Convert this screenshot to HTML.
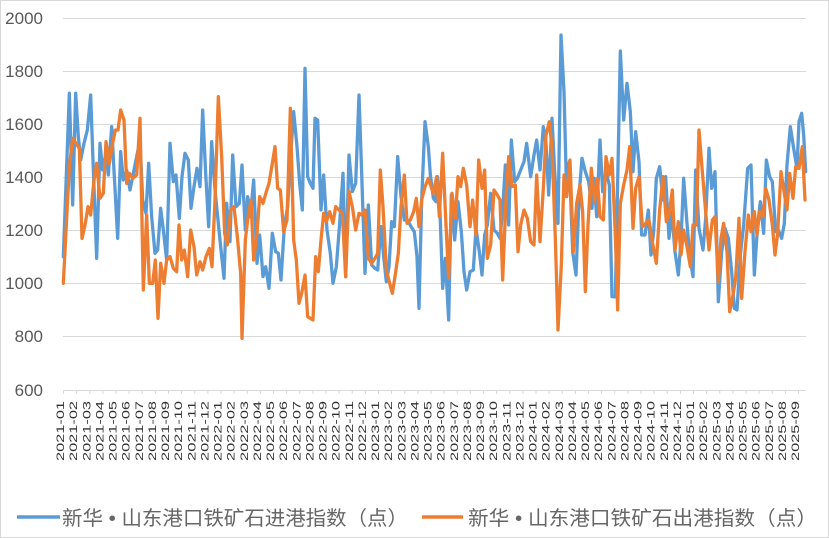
<!DOCTYPE html>
<html>
<head>
<meta charset="utf-8">
<style>
html,body{margin:0;padding:0;background:#fff;}
svg{display:block;}
.yl{font-family:"Liberation Sans",sans-serif;font-size:17px;fill:#595959;}
.xl{font-family:"Liberation Sans",sans-serif;font-size:10.8px;fill:#333;}
.lg{font-family:"Liberation Sans","Noto Sans CJK SC",sans-serif;font-size:20px;fill:#666;}
</style>
</head>
<body>
<svg width="829" height="538" viewBox="0 0 829 538" xmlns="http://www.w3.org/2000/svg">
<rect x="0.5" y="0.5" width="828" height="537" fill="#fff" stroke="#d9d9d9" stroke-width="1"/>
<!-- gridlines -->
<g stroke="#d9d9d9" stroke-width="1">
<line x1="63" y1="18.5" x2="806" y2="18.5"/>
<line x1="63" y1="71.5" x2="806" y2="71.5"/>
<line x1="63" y1="124.5" x2="806" y2="124.5"/>
<line x1="63" y1="177.5" x2="806" y2="177.5"/>
<line x1="63" y1="230.5" x2="806" y2="230.5"/>
<line x1="63" y1="283.5" x2="806" y2="283.5"/>
<line x1="63" y1="336.5" x2="806" y2="336.5"/>
<line x1="63" y1="390.5" x2="806" y2="390.5"/>
<path d="M63.5 390v4M76.6 390v4M89.75 390v4M102.9 390v4M116 390v4M129.1 390v4M142.25 390v4M155.4 390v4M168.5 390v4M181.6 390v4M194.75 390v4M207.9 390v4M221 390v4M234.1 390v4M247.25 390v4M260.4 390v4M273.5 390v4M286.6 390v4M299.75 390v4M312.9 390v4M326 390v4M339.1 390v4M352.25 390v4M365.4 390v4M378.5 390v4M391.6 390v4M404.75 390v4M417.9 390v4M431 390v4M444.1 390v4M457.25 390v4M470.4 390v4M483.5 390v4M496.6 390v4M509.75 390v4M522.9 390v4M536 390v4M549.1 390v4M562.25 390v4M575.4 390v4M588.5 390v4M601.6 390v4M614.75 390v4M627.9 390v4M641 390v4M654.1 390v4M667.25 390v4M680.4 390v4M693.5 390v4M706.6 390v4M719.75 390v4M732.9 390v4M746 390v4M759.1 390v4M772.25 390v4M785.4 390v4M798.5 390v4"/>
</g>
<!-- y labels -->
<g class="yl" text-anchor="end">
<text x="43" y="24">2000</text>
<text x="43" y="77">1800</text>
<text x="43" y="130">1600</text>
<text x="43" y="183">1400</text>
<text x="43" y="236">1200</text>
<text x="43" y="289">1000</text>
<text x="43" y="342">800</text>
<text x="43" y="396">600</text>
</g>
<!-- x labels -->
<g class="xl" text-anchor="end">
<text transform="translate(64,401) rotate(-90)" textLength="60" lengthAdjust="spacingAndGlyphs">2021-01</text>
<text transform="translate(77.1,401) rotate(-90)" textLength="60" lengthAdjust="spacingAndGlyphs">2021-02</text>
<text transform="translate(90.25,401) rotate(-90)" textLength="60" lengthAdjust="spacingAndGlyphs">2021-03</text>
<text transform="translate(103.4,401) rotate(-90)" textLength="60" lengthAdjust="spacingAndGlyphs">2021-04</text>
<text transform="translate(116.5,401) rotate(-90)" textLength="60" lengthAdjust="spacingAndGlyphs">2021-05</text>
<text transform="translate(129.6,401) rotate(-90)" textLength="60" lengthAdjust="spacingAndGlyphs">2021-06</text>
<text transform="translate(142.75,401) rotate(-90)" textLength="60" lengthAdjust="spacingAndGlyphs">2021-07</text>
<text transform="translate(155.9,401) rotate(-90)" textLength="60" lengthAdjust="spacingAndGlyphs">2021-08</text>
<text transform="translate(169,401) rotate(-90)" textLength="60" lengthAdjust="spacingAndGlyphs">2021-09</text>
<text transform="translate(182.1,401) rotate(-90)" textLength="60" lengthAdjust="spacingAndGlyphs">2021-10</text>
<text transform="translate(195.25,401) rotate(-90)" textLength="60" lengthAdjust="spacingAndGlyphs">2021-11</text>
<text transform="translate(208.4,401) rotate(-90)" textLength="60" lengthAdjust="spacingAndGlyphs">2021-12</text>
<text transform="translate(221.5,401) rotate(-90)" textLength="60" lengthAdjust="spacingAndGlyphs">2022-01</text>
<text transform="translate(234.6,401) rotate(-90)" textLength="60" lengthAdjust="spacingAndGlyphs">2022-02</text>
<text transform="translate(247.75,401) rotate(-90)" textLength="60" lengthAdjust="spacingAndGlyphs">2022-03</text>
<text transform="translate(260.9,401) rotate(-90)" textLength="60" lengthAdjust="spacingAndGlyphs">2022-04</text>
<text transform="translate(274,401) rotate(-90)" textLength="60" lengthAdjust="spacingAndGlyphs">2022-05</text>
<text transform="translate(287.1,401) rotate(-90)" textLength="60" lengthAdjust="spacingAndGlyphs">2022-06</text>
<text transform="translate(300.25,401) rotate(-90)" textLength="60" lengthAdjust="spacingAndGlyphs">2022-07</text>
<text transform="translate(313.4,401) rotate(-90)" textLength="60" lengthAdjust="spacingAndGlyphs">2022-08</text>
<text transform="translate(326.5,401) rotate(-90)" textLength="60" lengthAdjust="spacingAndGlyphs">2022-09</text>
<text transform="translate(339.6,401) rotate(-90)" textLength="60" lengthAdjust="spacingAndGlyphs">2022-10</text>
<text transform="translate(352.75,401) rotate(-90)" textLength="60" lengthAdjust="spacingAndGlyphs">2022-11</text>
<text transform="translate(365.9,401) rotate(-90)" textLength="60" lengthAdjust="spacingAndGlyphs">2022-12</text>
<text transform="translate(379,401) rotate(-90)" textLength="60" lengthAdjust="spacingAndGlyphs">2023-01</text>
<text transform="translate(392.1,401) rotate(-90)" textLength="60" lengthAdjust="spacingAndGlyphs">2023-02</text>
<text transform="translate(405.25,401) rotate(-90)" textLength="60" lengthAdjust="spacingAndGlyphs">2023-03</text>
<text transform="translate(418.4,401) rotate(-90)" textLength="60" lengthAdjust="spacingAndGlyphs">2023-04</text>
<text transform="translate(431.5,401) rotate(-90)" textLength="60" lengthAdjust="spacingAndGlyphs">2023-05</text>
<text transform="translate(444.6,401) rotate(-90)" textLength="60" lengthAdjust="spacingAndGlyphs">2023-06</text>
<text transform="translate(457.75,401) rotate(-90)" textLength="60" lengthAdjust="spacingAndGlyphs">2023-07</text>
<text transform="translate(470.9,401) rotate(-90)" textLength="60" lengthAdjust="spacingAndGlyphs">2023-08</text>
<text transform="translate(484,401) rotate(-90)" textLength="60" lengthAdjust="spacingAndGlyphs">2023-09</text>
<text transform="translate(497.1,401) rotate(-90)" textLength="60" lengthAdjust="spacingAndGlyphs">2023-10</text>
<text transform="translate(510.25,401) rotate(-90)" textLength="60" lengthAdjust="spacingAndGlyphs">2023-11</text>
<text transform="translate(523.4,401) rotate(-90)" textLength="60" lengthAdjust="spacingAndGlyphs">2023-12</text>
<text transform="translate(536.5,401) rotate(-90)" textLength="60" lengthAdjust="spacingAndGlyphs">2024-01</text>
<text transform="translate(549.6,401) rotate(-90)" textLength="60" lengthAdjust="spacingAndGlyphs">2024-02</text>
<text transform="translate(562.75,401) rotate(-90)" textLength="60" lengthAdjust="spacingAndGlyphs">2024-03</text>
<text transform="translate(575.9,401) rotate(-90)" textLength="60" lengthAdjust="spacingAndGlyphs">2024-04</text>
<text transform="translate(589,401) rotate(-90)" textLength="60" lengthAdjust="spacingAndGlyphs">2024-05</text>
<text transform="translate(602.1,401) rotate(-90)" textLength="60" lengthAdjust="spacingAndGlyphs">2024-06</text>
<text transform="translate(615.25,401) rotate(-90)" textLength="60" lengthAdjust="spacingAndGlyphs">2024-07</text>
<text transform="translate(628.4,401) rotate(-90)" textLength="60" lengthAdjust="spacingAndGlyphs">2024-08</text>
<text transform="translate(641.5,401) rotate(-90)" textLength="60" lengthAdjust="spacingAndGlyphs">2024-09</text>
<text transform="translate(654.6,401) rotate(-90)" textLength="60" lengthAdjust="spacingAndGlyphs">2024-10</text>
<text transform="translate(667.75,401) rotate(-90)" textLength="60" lengthAdjust="spacingAndGlyphs">2024-11</text>
<text transform="translate(680.9,401) rotate(-90)" textLength="60" lengthAdjust="spacingAndGlyphs">2024-12</text>
<text transform="translate(694,401) rotate(-90)" textLength="60" lengthAdjust="spacingAndGlyphs">2025-01</text>
<text transform="translate(707.1,401) rotate(-90)" textLength="60" lengthAdjust="spacingAndGlyphs">2025-02</text>
<text transform="translate(720.25,401) rotate(-90)" textLength="60" lengthAdjust="spacingAndGlyphs">2025-03</text>
<text transform="translate(733.4,401) rotate(-90)" textLength="60" lengthAdjust="spacingAndGlyphs">2025-04</text>
<text transform="translate(746.5,401) rotate(-90)" textLength="60" lengthAdjust="spacingAndGlyphs">2025-05</text>
<text transform="translate(759.6,401) rotate(-90)" textLength="60" lengthAdjust="spacingAndGlyphs">2025-06</text>
<text transform="translate(772.75,401) rotate(-90)" textLength="60" lengthAdjust="spacingAndGlyphs">2025-07</text>
<text transform="translate(785.9,401) rotate(-90)" textLength="60" lengthAdjust="spacingAndGlyphs">2025-08</text>
<text transform="translate(799,401) rotate(-90)" textLength="60" lengthAdjust="spacingAndGlyphs">2025-09</text>
</g>
<!-- Blue series -->
<g fill="none" stroke="#5B9BD5" stroke-width="3.3" stroke-linejoin="round" stroke-linecap="round">
<g transform="translate(60,60) scale(0.333333)">
<polyline vector-effect="non-scaling-stroke" points="10,590 28,100 38,435 47,100 55,230 62,300 72,250 82,210 92,105 100,330 110,595 120,250 128,330 138,280 145,345 155,200 163,350 173,535 182,275 190,360 200,330 210,390 220,340 230,290 240,240 248,420 258,460 266,310 275,470 285,580 293,570 302,445 310,510 320,600 330,250 340,365 348,345 358,475 366,350 375,280 385,300 393,445 402,380 411,325 420,380 428,150 437,340 446,500 455,245 465,390 472,460 482,560 492,655 500,430 510,545 518,285 528,440 538,430 546,315 556,510"/>
</g>
<g transform="translate(245,60) scale(0.333333)">
<polyline vector-effect="non-scaling-stroke" points="1,510 8,410 16,470 26,360 36,610 44,525 54,650 62,620 72,685 82,520 92,575 100,580 108,660 118,500 128,440 136,300 146,155 156,260 164,370 172,450 180,25 188,350 196,370 204,385 210,175 218,180 228,450 236,345 246,510 256,580 264,670 274,620 284,490 294,340 302,650 312,285 322,395 332,370 342,105 350,340 360,640 370,435 380,615 390,625 398,630 408,500 416,590 424,665 432,620 440,485 448,500 458,290 468,410 478,480 488,480 498,500 508,515 516,590 522,745 530,420 540,185 550,260 556,344"/>
</g>
<g transform="translate(430,25) scale(0.333333)">
<polyline vector-effect="non-scaling-stroke" points="1,449 10,520 18,530 22,455 30,560 38,790 46,700 56,885 64,510 74,645 84,530 94,620 102,740 110,795 120,740 130,735 138,610 148,680 156,750 164,630 172,600 182,505 192,615 202,625 210,640 218,555 226,420 236,600 244,345 254,470 262,460 272,435 282,410 290,355 302,455 312,390 320,345 330,435 340,305 348,355 356,510 366,280 374,440 384,595 393,30 402,200 410,510 418,410 428,680 438,750 448,500 456,400 466,440 476,470 486,550 492,460 500,575 510,345 518,500 528,440 538,480 546,815 556,815"/>
</g>
<g transform="translate(615,25) scale(0.333333)">
<polyline vector-effect="non-scaling-stroke" points="1,815 16,78 26,285 36,175 46,260 54,440 62,320 72,410 80,630 90,630 100,555 108,690 116,620 124,460 134,425 144,525 152,455 162,640 170,560 180,680 190,750 198,645 206,460 216,595 224,690 234,755 242,435 252,610 264,675 272,580 282,370 290,490 300,440 310,830 320,680 330,610 340,640 350,740 358,850 366,855 376,690 386,600 398,430 408,420 418,750 428,600 436,530 446,625 454,405 464,455 472,470 482,620 490,615 500,640 508,595 516,420 526,305 536,370 546,430 552,290 560,265 566,330 572,440"/>
</g>
</g>
<!-- Orange series -->
<g fill="none" stroke="#ED7D31" stroke-width="3.3" stroke-linejoin="round" stroke-linecap="round">
<g transform="translate(60,60) scale(0.333333)">
<polyline vector-effect="non-scaling-stroke" points="10,670 28,320 38,235 48,250 58,265 66,535 76,490 84,440 92,465 102,360 110,310 120,415 130,400 138,245 148,310 156,260 166,210 174,210 182,150 192,180 200,370 208,340 218,355 230,345 240,175 250,690 260,465 268,670 278,670 286,600 294,775 302,610 312,670 320,600 330,590 340,625 350,635 357,495 365,600 373,570 383,650 392,510 402,560 410,645 420,605 428,630 438,590 448,565 456,620 465,420 475,110 485,290 494,520 502,555 512,450 522,440 532,530 542,640 546,835 556,540"/>
</g>
<g transform="translate(245,60) scale(0.333333)">
<polyline vector-effect="non-scaling-stroke" points="1,540 8,480 18,420 26,600 36,520 44,410 54,430 64,395 72,370 82,310 90,260 98,385 106,390 116,515 126,480 136,145 146,540 154,600 162,730 170,700 180,645 188,770 196,775 204,780 212,590 220,635 228,540 236,460 244,485 254,455 264,490 272,440 282,450 292,460 302,650 312,395 322,440 332,510 342,460 350,465 360,450 370,595 380,610 390,595 398,580 406,330 414,440 424,630 434,670 442,700 450,650 460,580 468,440 478,345 486,490 496,480 506,455 514,415 522,500 530,420 540,380 550,355 556,373"/>
</g>
<g transform="translate(430,25) scale(0.333333)">
<polyline vector-effect="non-scaling-stroke" points="1,478 10,505 20,455 28,575 38,385 48,600 56,760 66,505 76,580 84,455 92,485 100,430 110,480 120,605 128,525 138,630 146,405 156,490 164,435 172,700 182,660 192,495 202,510 210,525 218,765 228,520 236,395 246,485 256,480 264,680 272,600 282,555 292,580 302,650 312,660 320,450 330,650 340,490 348,330 358,290 366,370 376,640 384,915 394,720 402,450 410,515 420,405 430,680 440,535 450,480 458,560 466,800 474,600 484,430 494,530 502,460 510,575 520,585 528,395 538,450 546,400 556,630"/>
</g>
<g transform="translate(615,25) scale(0.333333)">
<polyline vector-effect="non-scaling-stroke" points="1,630 8,855 16,535 26,480 36,435 44,365 54,610 62,490 72,455 82,605 92,595 102,585 112,650 124,715 134,555 144,455 154,590 162,570 172,495 180,675 190,590 198,690 206,615 216,665 226,725 234,600 244,600 252,315 262,440 272,560 282,675 292,585 300,575 310,770 318,640 326,595 336,680 344,860 354,810 362,760 372,580 380,820 390,680 400,570 408,620 418,560 426,630 434,560 444,575 452,490 462,525 472,600 480,690 488,625 498,440 508,505 516,555 524,445 534,520 542,425 552,430 562,365 570,525"/>
</g>
</g>
<!-- legend -->
<line x1="17" y1="517" x2="60" y2="517" stroke="#5B9BD5" stroke-width="3.5"/>
<text class="lg" x="62" y="525" textLength="346" lengthAdjust="spacingAndGlyphs">新华 • 山东港口铁矿石进港指数（点）</text>
<line x1="422" y1="517" x2="463" y2="517" stroke="#ED7D31" stroke-width="3.5"/>
<text class="lg" x="468" y="525" textLength="349" lengthAdjust="spacingAndGlyphs">新华 • 山东港口铁矿石出港指数（点）</text>
</svg>
</body>
</html>
